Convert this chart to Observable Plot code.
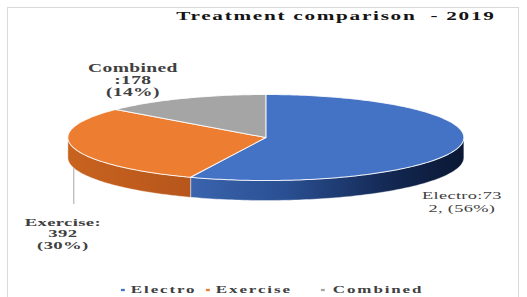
<!DOCTYPE html>
<html><head><meta charset="utf-8">
<script src="https://cdn.jsdelivr.net/npm/d3@7"></script>
<script src="https://cdn.jsdelivr.net/npm/@observablehq/plot@0.6"></script>
<style>
html,body{margin:0;padding:0;background:#fff}
body{width:527px;height:297px;overflow:hidden;position:relative}
#chart{position:absolute;left:0;top:0}
#frame{position:absolute;left:7px;top:7px;width:512px;height:300px;border:1px solid #d9d9d9;box-sizing:border-box;pointer-events:none}
</style></head>
<body><div id="chart"></div><div id="frame"></div>
<script>
// ---- data ----
const categories = ["Electro", "Exercise", "Combined"];
const values = [732, 392, 178];
const chartTitle = "Treatment comparison  - 2019";
// ---- styles ----
const topColors = ["#4472C4", "#ED7D31", "#A5A5A5"];
const sideFills = ["url(#side0)", "url(#side1)", "#7f7f7f"];

const total = d3.sum(values);
const percents = values.map(v => Math.round(v / total * 100));

// ---- layout (horizontal stretch like the reference) ----
const S = 1.7, W = Math.round(527 / S), H = 297;
const cx = 265 / S, rx = 198 / S, cy = 137, ry = 43, depth = 20;
const dz = depth / ry;

const arcs = d3.pie().sort(null).value(d => d)(values);
function arcPts(a0, a1, off) {
  const n = Math.max(2, Math.ceil((a1 - a0) / 0.02));
  return d3.range(n + 1).map(i => {
    const a = a0 + (a1 - a0) * i / n;
    return {x: Math.sin(a), y: -Math.cos(a) + off};
  });
}
const tops = arcs.map(a => [{x: 0, y: 0}, ...arcPts(a.startAngle, a.endAngle, 0)]);
const sides = arcs.map(a => {
  const s0 = Math.max(a.startAngle, Math.PI / 2), s1 = Math.min(a.endAngle, 3 * Math.PI / 2);
  if (s0 >= s1) return null;
  return [...arcPts(s0, s1, 0), ...arcPts(s0, s1, dz).reverse()];
});

const sv = String(values[0]);
const labelTexts = [
  `${categories[0]}:${sv.slice(0, 2)}\n${sv.slice(2)}, (${percents[0]}%)`,
  `${categories[1]}:\n${values[1]}\n(${percents[1]}%)`,
  `${categories[2]}\n:${values[2]}\n(${percents[2]}%)`
];
// label layout: [center x px, first baseline px, font size, line height, weight]
const labelLayout = [
  [461, 197, 10.8, 1.18, "normal"],
  [62, 225, 11, 1.05, "bold"],
  [132, 71, 11.5, 1.04, "bold"]
];
const legendLayout = [[122, 130], [207, 215], [322, 332]];
const leaderX = -0.97, leaderBottom = 1.535;

const defs = () => {
  const g = d3.create("svg:defs");
  g.html(`<linearGradient id="side0" x1="0" x2="1" y1="0" y2="0">
    <stop offset="0" stop-color="#3a64ad"/><stop offset="0.35" stop-color="#2a4f92"/>
    <stop offset="0.75" stop-color="#12264f"/><stop offset="1" stop-color="#0a1834"/></linearGradient>
    <linearGradient id="side1" x1="0" x2="1" y1="0" y2="0">
    <stop offset="0" stop-color="#c8631f"/><stop offset="1" stop-color="#b7561c"/></linearGradient>`);
  return g.node();
};

const textBase = {frameAnchor: "top-left", lineAnchor: "top", fontFamily: "Liberation Serif"};
const marks = [defs];
sides.forEach((pts, i) => {
  if (pts) marks.push(Plot.line(pts, {x: "x", y: "y", curve: "linear-closed", fill: sideFills[i], stroke: "#ffffff", strokeOpacity: 0.5, strokeWidth: 0.8}));
});
tops.forEach((pts, i) => {
  marks.push(Plot.line(pts, {x: "x", y: "y", curve: "linear-closed", fill: topColors[i], stroke: "#ffffff", strokeOpacity: 0.85, strokeWidth: 1}));
});
marks.push(Plot.line([{x: leaderX, y: Math.sqrt(1 - leaderX * leaderX) + dz}, {x: leaderX, y: leaderBottom}],
  {x: "x", y: "y", stroke: "#a6a6a6", strokeWidth: 1}));
labelTexts.forEach((t, i) => {
  const [px, base, fs, lh, fw] = labelLayout[i];
  marks.push(Plot.text([t], {...textBase, text: d => d, dx: px / S, dy: base - 0.71 * fs, textAnchor: "middle",
    fontSize: fs, lineHeight: lh, fontWeight: fw, fill: "#404040", ariaDescription: "label"}));
});
marks.push(Plot.text([chartTitle], {...textBase, text: d => d, dx: 335 / S, dy: 19.3 - 0.71 * 12.5, textAnchor: "middle",
  fontSize: 12.5, fontWeight: "bold", fill: "#141414", ariaDescription: "title"}));
categories.forEach((c, i) => {
  const [mx, tx] = legendLayout[i];
  marks.push(Plot.dot([c], {frameAnchor: "top-left", dx: mx / S, dy: 289.5, symbol: "square", r: 1.3, fill: topColors[i], stroke: "none"}));
  marks.push(Plot.text([c], {...textBase, text: d => d, dx: tx / S, dy: 292.7 - 0.71 * 10, textAnchor: "start",
    fontSize: 10, fontWeight: "bold", fill: "#404040", ariaDescription: "legend"}));
});

const svg = Plot.plot({
  width: W, height: H, margin: 0,
  x: {domain: [-1, 1], range: [cx - rx, cx + rx], axis: null},
  y: {domain: [-1, 1], range: [cy - ry, cy + ry], axis: null},
  marks
});
svg.setAttribute("preserveAspectRatio", "none");
svg.style.width = "527px"; svg.style.height = "297px"; svg.style.maxWidth = "none"; svg.style.background = "transparent";
const s = d3.select(svg);
s.selectAll("path").attr("vector-effect", "non-scaling-stroke");
const spacing = {title: "1px", legend: "1.1px", label: "0.2px"};
for (const k in spacing) {
  s.selectAll(`[aria-description="${k}"] text, [aria-description="${k}"] tspan`).style("letter-spacing", spacing[k]);
}
// fallback by text content
s.selectAll("text").each(function() {
  const t = this.textContent;
  if (t === chartTitle) this.style.letterSpacing = spacing.title;
  else if (categories.includes(t)) this.style.letterSpacing = spacing.legend;
});
document.getElementById("chart").appendChild(svg);
</script>
</body></html>
